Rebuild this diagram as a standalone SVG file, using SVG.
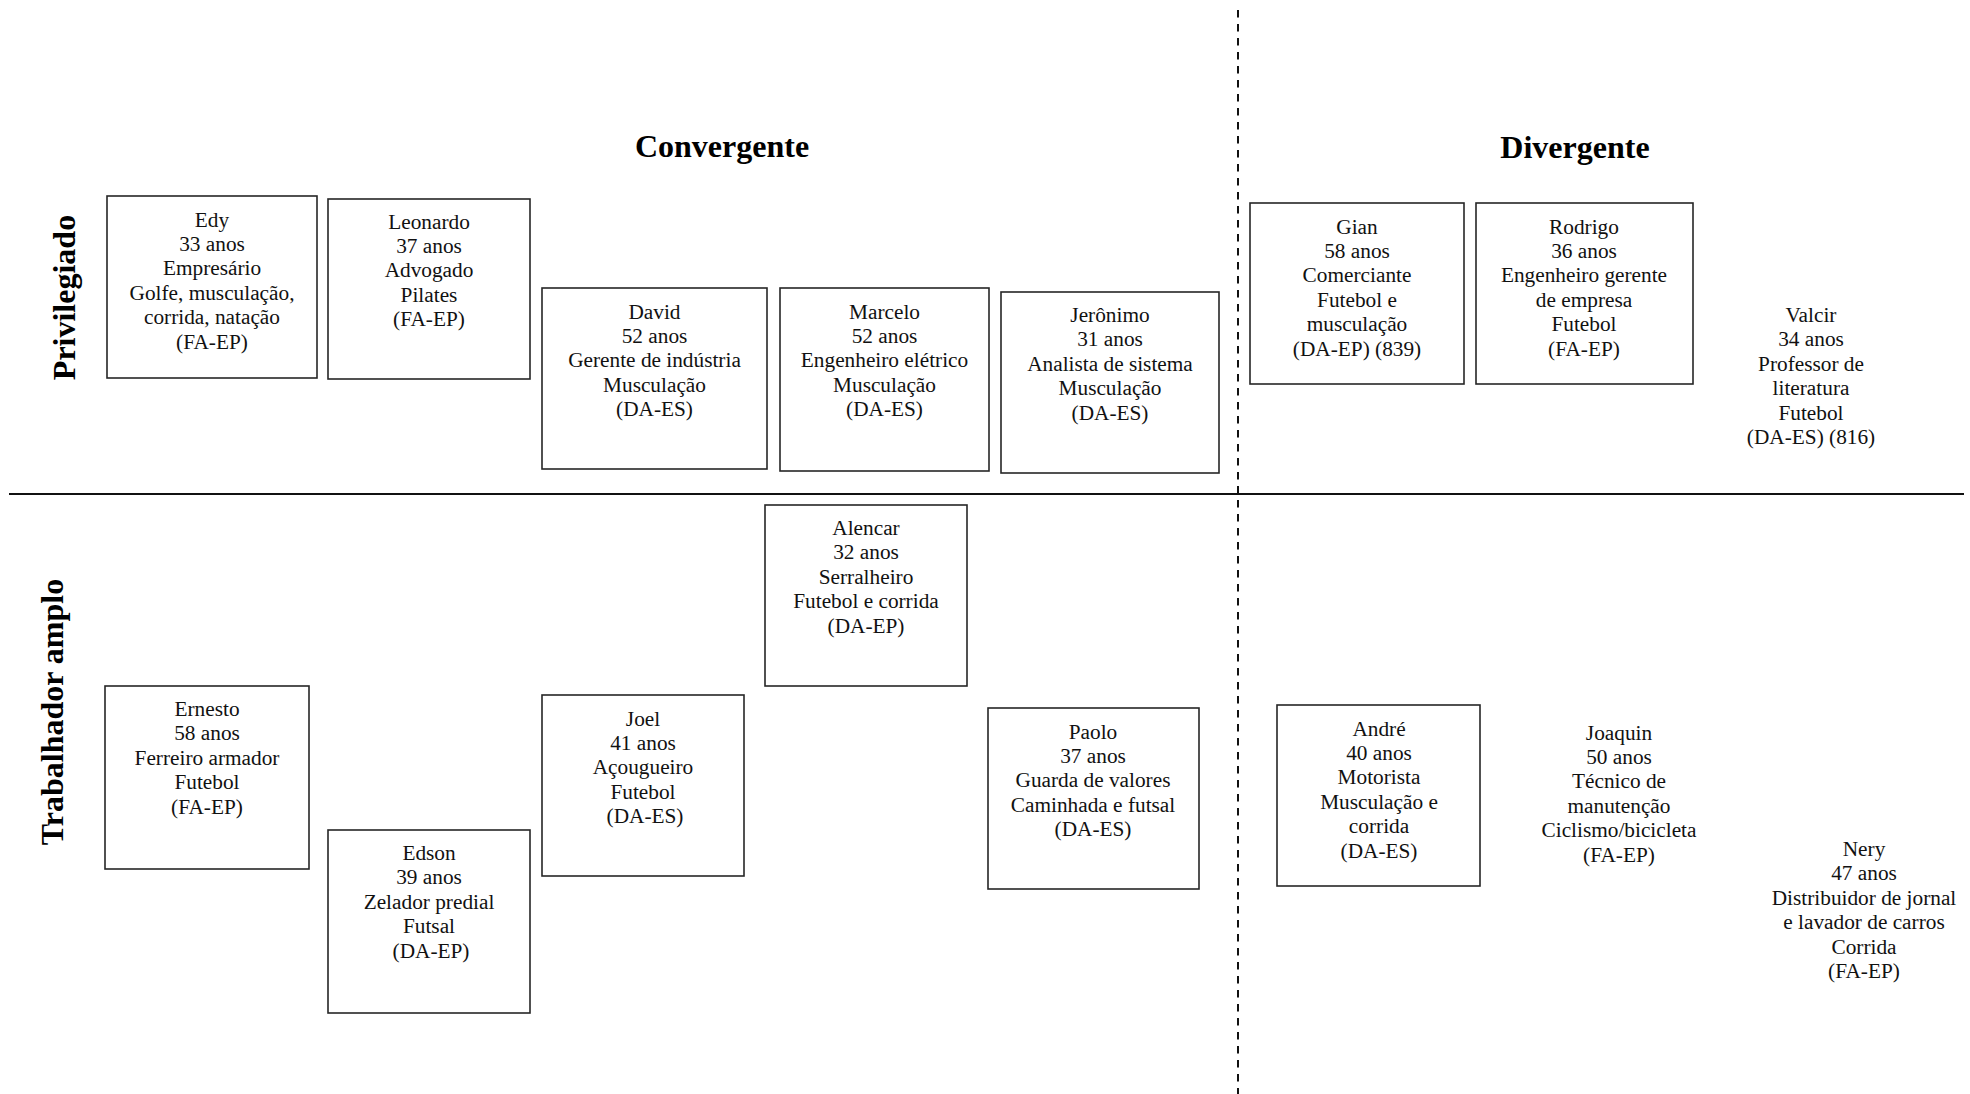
<svg xmlns="http://www.w3.org/2000/svg" width="1970" height="1094" viewBox="0 0 1970 1094">
  <style>
    .box { fill: #ffffff; stroke: #262626; stroke-width: 1.6; }
    .t { font-family: "Liberation Serif", "Times New Roman", serif; font-size: 21.3px; text-anchor: middle; fill: #111111; }
    .head { font-family: "Liberation Serif", "Times New Roman", serif; font-size: 32px; font-weight: bold; text-anchor: middle; fill: #000000; }
    .axis { stroke: #111111; stroke-width: 2.2; fill: none; }
    .split { stroke: #111111; stroke-width: 2; stroke-dasharray: 7.5 6.5; fill: none; }
  </style>
  <rect width="1970" height="1094" fill="#ffffff"/>

  <!-- quadrant dividers -->
  <g id="dividers">
    <line class="axis" x1="9" y1="494" x2="1964" y2="494"/>
    <line class="split" x1="1238" y1="10" x2="1238" y2="1094"/>
  </g>

  <!-- column and row headings -->
  <g id="headings">
    <text class="head" x="722" y="157">Convergente</text>
    <text class="head" x="1575" y="158">Divergente</text>
    <text class="head" transform="translate(75 297.5) rotate(-90)" x="0" y="0">Privilegiado</text>
    <text class="head" transform="translate(63 712) rotate(-90)" x="0" y="0">Trabalhador amplo</text>
  </g>

  <!-- Privilegiado / Convergente -->
  <g id="node-edy">
    <rect class="box" x="107" y="196" width="210" height="182"/>
    <text class="t" y="226.5"><tspan x="212">Edy</tspan><tspan x="212" dy="24.45">33 anos</tspan><tspan x="212" dy="24.45">Empresário</tspan><tspan x="212" dy="24.45">Golfe, musculação,</tspan><tspan x="212" dy="24.45">corrida, natação</tspan><tspan x="212" dy="24.45">(FA-EP)</tspan></text>
  </g>
  <g id="node-leonardo">
    <rect class="box" x="328" y="199" width="202" height="180"/>
    <text class="t" y="228.5"><tspan x="429">Leonardo</tspan><tspan x="429" dy="24.45">37 anos</tspan><tspan x="429" dy="24.45">Advogado</tspan><tspan x="429" dy="24.45">Pilates</tspan><tspan x="429" dy="24.45">(FA-EP)</tspan></text>
  </g>
  <g id="node-david">
    <rect class="box" x="542" y="288" width="225" height="181"/>
    <text class="t" y="318.5"><tspan x="654.5">David</tspan><tspan x="654.5" dy="24.45">52 anos</tspan><tspan x="654.5" dy="24.45">Gerente de indústria</tspan><tspan x="654.5" dy="24.45">Musculação</tspan><tspan x="654.5" dy="24.45">(DA-ES)</tspan></text>
  </g>
  <g id="node-marcelo">
    <rect class="box" x="780" y="288" width="209" height="183"/>
    <text class="t" y="318.5"><tspan x="884.5">Marcelo</tspan><tspan x="884.5" dy="24.45">52 anos</tspan><tspan x="884.5" dy="24.45">Engenheiro elétrico</tspan><tspan x="884.5" dy="24.45">Musculação</tspan><tspan x="884.5" dy="24.45">(DA-ES)</tspan></text>
  </g>
  <g id="node-jeronimo">
    <rect class="box" x="1001" y="292" width="218" height="181"/>
    <text class="t" y="322"><tspan x="1110">Jerônimo</tspan><tspan x="1110" dy="24.45">31 anos</tspan><tspan x="1110" dy="24.45">Analista de sistema</tspan><tspan x="1110" dy="24.45">Musculação</tspan><tspan x="1110" dy="24.45">(DA-ES)</tspan></text>
  </g>

  <!-- Privilegiado / Divergente -->
  <g id="node-gian">
    <rect class="box" x="1250" y="203" width="214" height="181"/>
    <text class="t" y="233.5"><tspan x="1357">Gian</tspan><tspan x="1357" dy="24.45">58 anos</tspan><tspan x="1357" dy="24.45">Comerciante</tspan><tspan x="1357" dy="24.45">Futebol e</tspan><tspan x="1357" dy="24.45">musculação</tspan><tspan x="1357" dy="24.45">(DA-EP) (839)</tspan></text>
  </g>
  <g id="node-rodrigo">
    <rect class="box" x="1476" y="203" width="217" height="181"/>
    <text class="t" y="233.5"><tspan x="1584">Rodrigo</tspan><tspan x="1584" dy="24.45">36 anos</tspan><tspan x="1584" dy="24.45">Engenheiro gerente</tspan><tspan x="1584" dy="24.45">de empresa</tspan><tspan x="1584" dy="24.45">Futebol</tspan><tspan x="1584" dy="24.45">(FA-EP)</tspan></text>
  </g>
  <g id="node-valcir">
    <text class="t" y="322"><tspan x="1811">Valcir</tspan><tspan x="1811" dy="24.45">34 anos</tspan><tspan x="1811" dy="24.45">Professor de</tspan><tspan x="1811" dy="24.45">literatura</tspan><tspan x="1811" dy="24.45">Futebol</tspan><tspan x="1811" dy="24.45">(DA-ES) (816)</tspan></text>
  </g>

  <!-- Trabalhador amplo / Convergente -->
  <g id="node-alencar">
    <rect class="box" x="765" y="505" width="202" height="181"/>
    <text class="t" y="535"><tspan x="866">Alencar</tspan><tspan x="866" dy="24.45">32 anos</tspan><tspan x="866" dy="24.45">Serralheiro</tspan><tspan x="866" dy="24.45">Futebol e corrida</tspan><tspan x="866" dy="24.45">(DA-EP)</tspan></text>
  </g>
  <g id="node-ernesto">
    <rect class="box" x="105" y="686" width="204" height="183"/>
    <text class="t" y="716"><tspan x="207">Ernesto</tspan><tspan x="207" dy="24.45">58 anos</tspan><tspan x="207" dy="24.45">Ferreiro armador</tspan><tspan x="207" dy="24.45">Futebol</tspan><tspan x="207" dy="24.45">(FA-EP)</tspan></text>
  </g>
  <g id="node-edson">
    <rect class="box" x="328" y="830" width="202" height="183"/>
    <text class="t" y="860"><tspan x="429">Edson</tspan><tspan x="429" dy="24.45">39 anos</tspan><tspan x="429" dy="24.45">Zelador predial</tspan><tspan x="429" dy="24.45">Futsal</tspan><tspan x="431" dy="24.45">(DA-EP)</tspan></text>
  </g>
  <g id="node-joel">
    <rect class="box" x="542" y="695" width="202" height="181"/>
    <text class="t" y="725.5"><tspan x="643">Joel</tspan><tspan x="643" dy="24.45">41 anos</tspan><tspan x="643" dy="24.45">Açougueiro</tspan><tspan x="643" dy="24.45">Futebol</tspan><tspan x="645" dy="24.45">(DA-ES)</tspan></text>
  </g>
  <g id="node-paolo">
    <rect class="box" x="988" y="708" width="211" height="181"/>
    <text class="t" y="738.5"><tspan x="1093">Paolo</tspan><tspan x="1093" dy="24.45">37 anos</tspan><tspan x="1093" dy="24.45">Guarda de valores</tspan><tspan x="1093" dy="24.45">Caminhada e futsal</tspan><tspan x="1093" dy="24.45">(DA-ES)</tspan></text>
  </g>

  <!-- Trabalhador amplo / Divergente -->
  <g id="node-andre">
    <rect class="box" x="1277" y="705" width="203" height="181"/>
    <text class="t" y="735.5"><tspan x="1379">André</tspan><tspan x="1379" dy="24.45">40 anos</tspan><tspan x="1379" dy="24.45">Motorista</tspan><tspan x="1379" dy="24.45">Musculação e</tspan><tspan x="1379" dy="24.45">corrida</tspan><tspan x="1379" dy="24.45">(DA-ES)</tspan></text>
  </g>
  <g id="node-joaquin">
    <text class="t" y="739.5"><tspan x="1619">Joaquin</tspan><tspan x="1619" dy="24.45">50 anos</tspan><tspan x="1619" dy="24.45">Técnico de</tspan><tspan x="1619" dy="24.45">manutenção</tspan><tspan x="1619" dy="24.45">Ciclismo/bicicleta</tspan><tspan x="1619" dy="24.45">(FA-EP)</tspan></text>
  </g>
  <g id="node-nery">
    <text class="t" y="856"><tspan x="1864">Nery</tspan><tspan x="1864" dy="24.45">47 anos</tspan><tspan x="1864" dy="24.45">Distribuidor de jornal</tspan><tspan x="1864" dy="24.45">e lavador de carros</tspan><tspan x="1864" dy="24.45">Corrida</tspan><tspan x="1864" dy="24.45">(FA-EP)</tspan></text>
  </g>
</svg>
